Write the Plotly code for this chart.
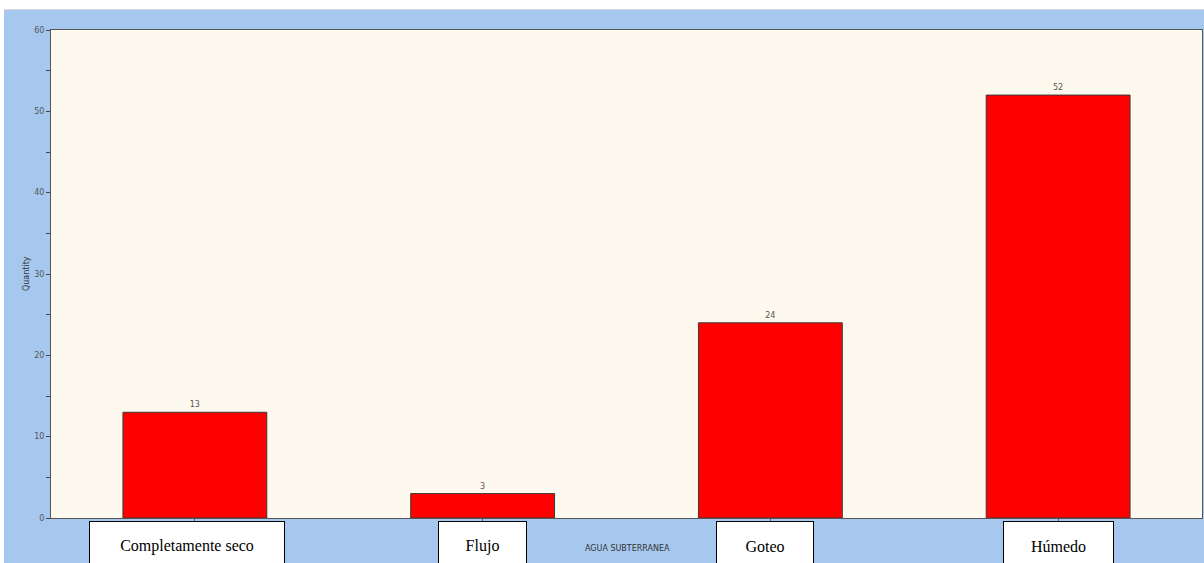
import plotly.graph_objects as go

# Groundwater condition counts
categories = ["Completamente seco", "Flujo", "Goteo", "Húmedo"]
quantities = [13, 3, 24, 52]
y_ticks = [0, 10, 20, 30, 40, 50, 60]

# horizontal nudges (px) for the boxed category captions
caption_shift = [-8, 0, -5, 0]
caption_width = [194, 87, 96, 109]

W, H = 1204, 563
ml, mr, mt, mb = 51, 2, 30, 45
plot_h = H - mt - mb
plot_w = W - ml - mr

BLUE = "#A6C8EE"
CREAM = "#FEF9EE"

fig = go.Figure()
fig.add_trace(go.Bar(
    x=categories,
    y=quantities,
    width=0.5,
    marker=dict(color="#FF0000", line=dict(color="#3a3a3a", width=1)),
    text=[str(v) for v in quantities],
    textposition="outside",
    cliponaxis=False,
    textfont=dict(family="Verdana, DejaVu Sans, sans-serif", size=8, color="#555555"),
))

annotations = []
for cat, dx, w in zip(categories, caption_shift, caption_width):
    annotations.append(dict(
        x=cat, xref="x", y=0, yref="y",
        xanchor="center", yanchor="top", yshift=-3, xshift=dx,
        text=cat, showarrow=False,
        font=dict(family="Liberation Serif, Times New Roman, serif", size=16, color="#000000"),
        bgcolor="#FFFFFF", bordercolor="#000000", borderwidth=1, borderpad=0,
        width=w, height=48, valign="middle",
    ))

annotations.append(dict(
    x=0.5, xref="paper", y=-30 / plot_h, yref="paper",
    yanchor="middle", text="AGUA SUBTERRANEA", showarrow=False, xshift=1,
    font=dict(family="Verdana, DejaVu Sans, sans-serif", size=8, color="#333333"),
))
annotations.append(dict(
    x=-25 / plot_w, xref="paper", y=0.5, yref="paper",
    xanchor="center", text="Quantity", textangle=-90, showarrow=False,
    font=dict(family="Verdana, DejaVu Sans, sans-serif", size=8, color="#333333"),
))

# white strips along the top and left edges of the window
shapes = [
    dict(type="rect", xref="paper", yref="paper", layer="below",
         x0=-ml / plot_w, x1=1 + mr / plot_w, y0=1 + 20 / plot_h, y1=1 + mt / plot_h,
         fillcolor="#FFFFFF", line=dict(width=0)),
    dict(type="line", xref="paper", yref="paper", layer="below",
         x0=-ml / plot_w, x1=1 + mr / plot_w, y0=1 + 20.5 / plot_h, y1=1 + 20.5 / plot_h,
         line=dict(color="#D8D8D8", width=1)),
    dict(type="rect", xref="paper", yref="paper", layer="below",
         x0=-ml / plot_w, x1=-(ml - 4) / plot_w, y0=-mb / plot_h, y1=1 + mt / plot_h,
         fillcolor="#FFFFFF", line=dict(width=0)),
]

fig.update_layout(
    width=W, height=H,
    margin=dict(l=ml, r=mr, t=mt, b=mb),
    paper_bgcolor=BLUE,
    plot_bgcolor=CREAM,
    showlegend=False,
    bargap=0.5,
    annotations=annotations,
    shapes=shapes,
    xaxis=dict(
        type="category", range=[-0.5, 3.5],
        showticklabels=False, showgrid=False,
        ticks="outside", ticklen=3, tickcolor="#555555",
        showline=True, linecolor="#555555", linewidth=1, mirror=True,
    ),
    yaxis=dict(
        range=[0, 60], tickvals=y_ticks, showgrid=False, zeroline=False,
        ticks="outside", ticklen=4, tickcolor="#444444",
        tickfont=dict(family="Verdana, DejaVu Sans, sans-serif", size=8, color="#555555"),
        showline=True, linecolor="#555555", linewidth=1, mirror=True,
        minor=dict(tickvals=[5, 15, 25, 35, 45, 55], ticks="outside", ticklen=4, tickcolor="#444444"),
    ),
)

fig.write_html("out.html")
